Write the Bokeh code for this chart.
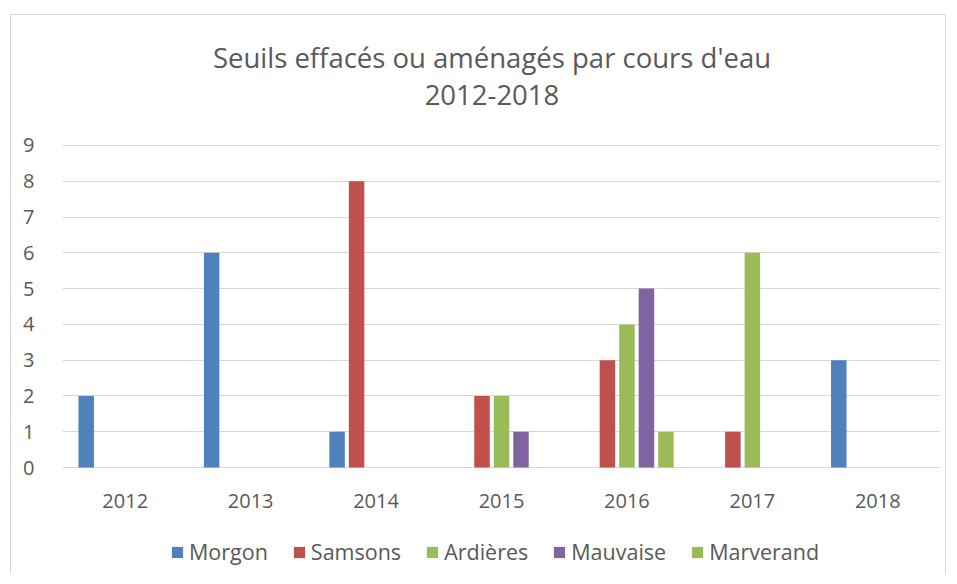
from bokeh.plotting import figure
from bokeh.models import (ColumnDataSource, FactorRange, Range1d, Legend, LegendItem, Label,
                          FixedTicker)
from bokeh.transform import dodge
from bokeh.embed import file_html
from bokeh.resources import INLINE

title_lines = ["Seuils effacés ou aménagés par cours d'eau", "2012-2018"]
years = ["2012", "2013", "2014", "2015", "2016", "2017", "2018"]
series_names = ["Morgon", "Samsons", "Ardières", "Mauvaise", "Marverand"]
morgon = [2, 6, 1, 0, 0, 0, 3]
samsons = [0, 0, 8, 2, 3, 1, 0]
ardieres = [0, 0, 0, 2, 4, 6, 0]
mauvaise = [0, 0, 0, 1, 5, 0, 0]
marverand = [0, 0, 0, 0, 1, 0, 0]
y_ticks = [0, 1, 2, 3, 4, 5, 6, 7, 8, 9]
colors = ["#4F81BD", "#C0504D", "#9BBB59", "#8064A2", "#9BBB59"]

data = {"year": years, "Morgon": morgon, "Samsons": samsons, "Ardières": ardieres,
        "Mauvaise": mauvaise, "Marverand": marverand}
source = ColumnDataSource(data)

FONT = "Open Sans"
TXT = "#595959"

# frame spans the whole canvas height; the visible value axis runs 0..9
p = figure(x_range=FactorRange(*years), y_range=Range1d(-3.018, 12.633),
           x_axis_location="above",
           width=936, height=560, output_backend="svg", toolbar_location=None,
           min_border_left=51, min_border_right=7, min_border_top=0, min_border_bottom=0,
           outline_line_color=None)
p.styles = {"margin-left": "10px", "margin-top": "14px",
            "border-top": "1px solid #d9d9d9", "border-left": "1px solid #d9d9d9",
            "border-right": "1px solid #d9d9d9"}

slot = 19.5 / 125.4
bw = 15.5 / 125.4
items = []
for k, (name, col) in enumerate(zip(series_names, colors)):
    r = p.vbar(x=dodge("year", (k - 2) * slot, range=p.x_range), top=name, width=bw,
               source=source, fill_color=col, line_color=None)
    items.append(LegendItem(label=name, renderers=[r]))

p.xgrid.grid_line_color = None
p.yaxis.ticker = FixedTicker(ticks=y_ticks)
p.ygrid.ticker = FixedTicker(ticks=y_ticks)
p.ygrid.grid_line_color = "#d9d9d9"
p.ygrid.grid_line_width = 1

for ax in (p.xaxis, p.yaxis):
    ax.axis_line_color = None
    ax.major_tick_line_color = None
    ax.minor_tick_line_color = None
    ax.major_label_text_font = FONT
    ax.major_label_text_font_size = "20px"
    ax.major_label_text_color = TXT
p.yaxis.major_label_standoff = 22
p.xaxis.fixed_location = 0
p.xaxis.major_label_standoff = -46

for txt, ty in zip(title_lines, [11.46, 10.40]):
    p.add_layout(Label(x=3.424, y=ty, text=txt, text_align="center", text_baseline="middle",
                       text_font=FONT, text_font_size="27.5px", text_color=TXT))

legend = Legend(items=items, orientation="horizontal", location=(108, 9),
                label_text_font=FONT, label_text_font_size="21.5px", label_text_color=TXT,
                glyph_width=14, glyph_height=14, label_standoff=5, spacing=24,
                border_line_color=None, background_fill_alpha=0, margin=0, padding=0)
p.add_layout(legend, "center")

open("out.html", "w").write(file_html(p, INLINE))
